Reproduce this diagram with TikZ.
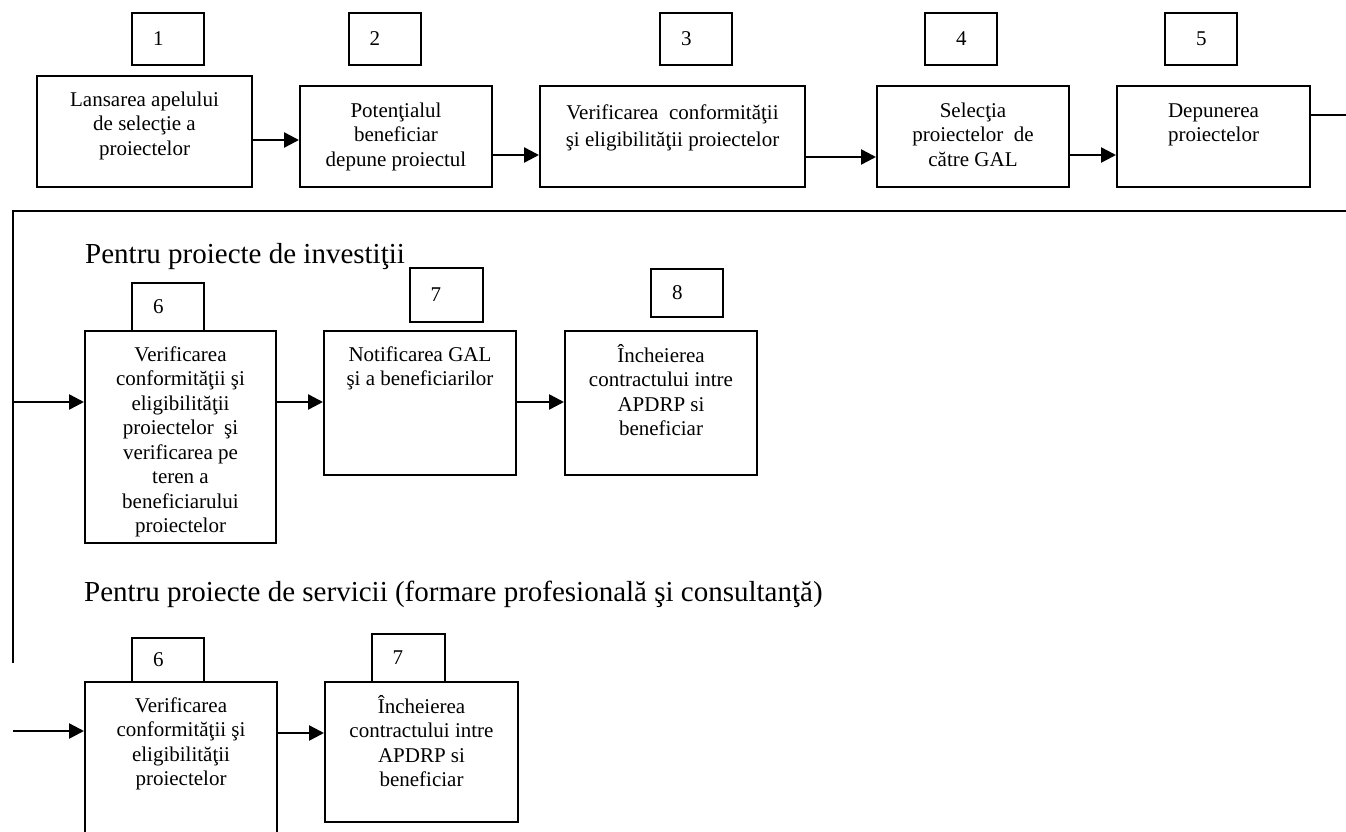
\documentclass[tikz,border=0pt]{standalone}
\usepackage{fontspec}
\setmainfont{Liberation Serif}
\usetikzlibrary{arrows.meta}
\newcommand{\bxt}[4][13pt]{\parbox[c][#3][t]{#2}{\centering\vspace*{#1}\strut #4\par}}
\newcommand{\numtxt}[2]{\makebox[72pt][l]{\hspace*{#1}#2}}
\begin{document}
\begin{tikzpicture}[x=1pt,y=-1pt,
  bx/.style={draw,line width=2pt,inner sep=0pt,font=\fontsize{21}{24.5}\selectfont},
  nb/.style={draw,line width=2pt,inner sep=0pt,minimum width=72pt,font=\fontsize{21}{24.5}\selectfont},
  arr/.style={line width=2.5pt,-{Triangle[length=15pt,width=15pt]}},
  ln/.style={line width=2pt},
  ttl/.style={inner sep=0pt,anchor=base west,font=\fontsize{29}{34}\selectfont}]
\useasboundingbox (0,0) rectangle (1346,832);
\clip (0,0) rectangle (1346,832);
% top row numbers
\node[nb,minimum height=52pt] (n1) at (168,39) {\numtxt{21pt}{1}};
\node[nb,minimum height=52pt] (n2) at (384.5,39) {\numtxt{21pt}{2}};
\node[nb,minimum height=52pt] (n3) at (696,39) {\numtxt{21pt}{3}};
\node[nb,minimum height=52pt] (n4) at (961,39) {\numtxt{31pt}{4}};
\node[nb,minimum height=52pt] (n5) at (1201,39) {\numtxt{31pt}{5}};
% top row boxes
\node[bx] (b1) at (144.5,131.5) {\bxt{215pt}{111pt}{Lansarea apelului\\de selecţie a\\proiectelor}};
\node[bx] (b2) at (396,136.5) {\bxt[14pt]{192pt}{101pt}{Potenţialul\\beneficiar\\depune proiectul}};
\node[bx,font=\fontsize{21}{26.5}\selectfont] (b3) at (672.5,136.5) {\bxt[15pt]{265pt}{101pt}{Verificarea\ \ conformităţii\\şi eligibilităţii proiectelor}};
\node[bx] (b4) at (973,136.5) {\bxt[14pt]{192pt}{101pt}{Selecţia\\proiectelor\ \ de\\către GAL}};
\node[bx] (b5) at (1213.5,136.5) {\bxt[14pt]{193pt}{101pt}{Depunerea\\proiectelor}};
\coordinate (y140) at (0,140);
\coordinate (y155) at (0,155);
\coordinate (y157) at (0,157);
\draw[arr] (b1.east |- y140) -- (b2.west |- y140);
\draw[arr] (b2.east |- y155) -- (b3.west |- y155);
\draw[arr] (b3.east |- y157) -- (b4.west |- y157);
\draw[arr] (b4.east |- y155) -- (b5.west |- y155);
\coordinate (re) at (1346,115);
\draw[ln] (b5.east |- re) -- (re);
% frame line
\coordinate (tr) at (1346,211);
\coordinate (tl) at (13,211);
\coordinate (bl) at (13,663);
\draw[ln] (tr) -- (tl) -- (bl);
% investment projects
\node[ttl] (t1) at (85,263) {Pentru proiecte de investiţii};
\node[nb,minimum height=48pt] (n6) at (168,307) {\numtxt{21pt}{6}};
\node[nb,minimum height=54pt,minimum width=73pt] (n7) at (446.5,295) {\numtxt{20pt}{7}};
\node[nb,minimum height=48pt] (n8) at (687,293) {\numtxt{21pt}{8}};
\node[bx,fill=white] (b6) at (180.5,437) {\bxt{191pt}{212pt}{Verificarea\\conformităţii şi\\eligibilităţii\\proiectelor\ \ şi\\verificarea pe\\teren a\\beneficiarului\\proiectelor}};
\node[bx] (b7) at (420,403) {\bxt{192pt}{144pt}{Notificarea GAL\\şi a beneficiarilor}};
\node[bx] (b8) at (661,403) {\bxt{192pt}{144pt}{Încheierea\\contractului intre\\APDRP si\\beneficiar}};
\coordinate (m0) at (13,402);
\draw[arr] (m0) -- (b6.west |- m0);
\draw[arr] (b6.east |- m0) -- (b7.west |- m0);
\draw[arr] (b7.east |- m0) -- (b8.west |- m0);
% service projects
\node[ttl] (t2) at (84,601) {Pentru proiecte de servicii (formare profesională şi consultanţă)};
\node[nb,minimum height=44pt] (n6b) at (168,660) {\numtxt{21pt}{6}};
\node[nb,minimum height=48pt,minimum width=73pt] (n7b) at (408.5,658) {\numtxt{20pt}{7}};
\node[bx,fill=white] (b6b) at (181,772) {\bxt{192pt}{180pt}{Verificarea\\conformităţii şi\\eligibilităţii\\proiectelor}};
\node[bx,fill=white] (b7b) at (421.5,752) {\bxt{193pt}{140pt}{Încheierea\\contractului intre\\APDRP si\\beneficiar}};
\coordinate (q0) at (13,731);
\coordinate (q1) at (0,733);
\draw[arr] (q0) -- (b6b.west |- q0);
\draw[arr] (b6b.east |- q1) -- (b7b.west |- q1);
\end{tikzpicture}
\end{document}
